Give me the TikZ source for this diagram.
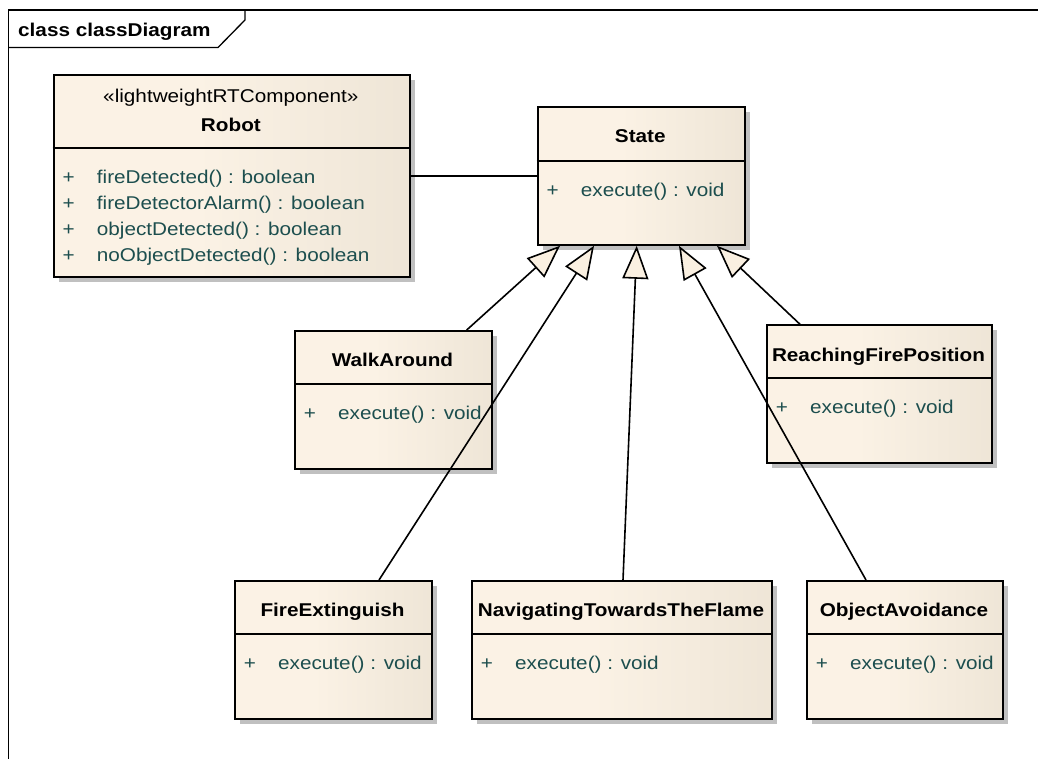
\documentclass[tikz,border=0pt]{standalone}
\usepackage{fontspec}
\setmainfont[FakeStretch=1.12]{Liberation Sans}
\usetikzlibrary{arrows.meta,calc,shadows}
\definecolor{cfa}{RGB}{251,242,229}
\definecolor{cfb}{RGB}{228,219,203}
\definecolor{optext}{RGB}{28,78,78}
\definecolor{shadowgray}{RGB}{192,192,192}
\definecolor{headfill}{RGB}{250,240,225}
\pgfdeclarehorizontalshading{classfill}{100bp}{color(0bp)=(cfa); color(45bp)=(cfa); color(100bp)=(cfb)}
\tikzset{
  classbox/.style={rectangle, draw=black, line width=1.8pt, shade, shading=classfill,
    inner sep=0pt, anchor=north west,
    drop shadow={shadow xshift=5pt, shadow yshift=-5pt, fill=shadowgray, opacity=1}},
  divline/.style={line width=1.6pt},
  basefont/.style={font=\fontsize{18.5}{22}\selectfont},
  cname/.style={basefont, font=\fontsize{18.5}{22}\selectfont\bfseries, inner sep=0pt, anchor=base},
  stereo/.style={basefont, inner sep=0pt, anchor=base},
  optx/.style={basefont, text=optext, inner sep=0pt, anchor=base west},
  plussign/.style={basefont, text=optext, inner sep=0pt, anchor=base},
  gen/.style={line width=1.6pt, -{Triangle[length=33pt,width=26pt,fill=headfill,line width=1.6pt]}},
  assoc/.style={line width=1.6pt},
  frameline/.style={line width=1.3pt},
}
\newcommand{\opline}[4]{%
  \node[plussign] (#1p) at ({#2+16},#3) {+};
  \node[optx] (#1t) at ({#2+44},#3) {#4};}
\begin{document}
\begin{tikzpicture}[x=1pt,y=-1pt]
\useasboundingbox (0,0) rectangle (1038,758);
\fill[white] (0,0) rectangle (1038,758);
% frame
\draw[frameline] (1045,10) -- (8.5,10) -- (8.5,765);
\draw[frameline] (8.5,47.5) -- (218,47.5) -- (245,20) -- (245,10);
\node[font=\fontsize{18.5}{22}\selectfont\bfseries, inner sep=0pt, anchor=base west] (framelabel) at (18,36) {class classDiagram};

% Robot
\node[classbox, minimum width=356.3pt, minimum height=201.4pt] (robot) at (52.7,74.3) {};
\draw[divline] (robot.west |- 0,148) -- (robot.east |- 0,148);
\node[stereo] (robotst) at (230.9,102.7) {«lightweightRTComponent»};
\node[cname] (robotname) at (230.9,131) {Robot};
\opline{ra}{52.7}{183.3}{fireDetected() : boolean}
\opline{rb}{52.7}{209.2}{fireDetectorAlarm() : boolean}
\opline{rc}{52.7}{235.1}{objectDetected() : boolean}
\opline{rd}{52.7}{261}{noObjectDetected() : boolean}

% State
\node[classbox, minimum width=207.3pt, minimum height=138pt] (state) at (536.7,106) {};
\draw[divline] (state.west |- 0,161) -- (state.east |- 0,161);
\node[cname] (statename) at (640.3,142.7) {State};
\opline{sa}{536.7}{196}{execute() : void}

% WalkAround
\node[classbox, minimum width=197pt, minimum height=138pt] (walk) at (294,330) {};
\draw[divline] (walk.west |- 0,384) -- (walk.east |- 0,384);
\node[cname] (walkname) at (392.5,366.7) {WalkAround};
\opline{wa}{294}{419}{execute() : void}

% ReachingFirePosition
\node[classbox, minimum width=225pt, minimum height=137.7pt] (reach) at (766,324.3) {};
\draw[divline] (reach.west |- 0,378) -- (reach.east |- 0,378);
\node[cname] (reachname) at (878.5,361) {ReachingFirePosition};
\opline{rfa}{766}{413.3}{execute() : void}

% FireExtinguish
\node[classbox, minimum width=197pt, minimum height=138pt] (fire) at (234,580) {};
\draw[divline] (fire.west |- 0,634) -- (fire.east |- 0,634);
\node[cname] (firename) at (332.5,616.7) {FireExtinguish};
\opline{fa}{234}{669}{execute() : void}

% NavigatingTowardsTheFlame
\node[classbox, minimum width=300pt, minimum height=138pt] (nav) at (471,580) {};
\draw[divline] (nav.west |- 0,634) -- (nav.east |- 0,634);
\node[cname] (navname) at (621,616.7) {NavigatingTowardsTheFlame};
\opline{na}{471}{669}{execute() : void}

% ObjectAvoidance
\node[classbox, minimum width=196pt, minimum height=138pt] (obj) at (806,580) {};
\draw[divline] (obj.west |- 0,634) -- (obj.east |- 0,634);
\node[cname] (objname) at (904,616.7) {ObjectAvoidance};
\opline{oa}{806}{669}{execute() : void}

% association
\draw[assoc] (robot.east |- 0,175.7) -- (state.west |- 0,175.7);

% generalizations
\draw[gen] ($(walk.north west)+(172.7,0)$) -- ($(state.south west)+(23.3,0)$);
\draw[gen] ($(fire.north west)+(145,0)$) -- ($(state.south west)+(57.3,0)$);
\draw[gen] ($(nav.north west)+(152,0)$) -- ($(state.south west)+(100,0)$);
\draw[gen] ($(obj.north west)+(60,0)$) -- ($(state.south west)+(142.3,0)$);
\draw[gen] ($(reach.north west)+(34,0)$) -- ($(state.south west)+(180.3,0)$);
\end{tikzpicture}
\end{document}
